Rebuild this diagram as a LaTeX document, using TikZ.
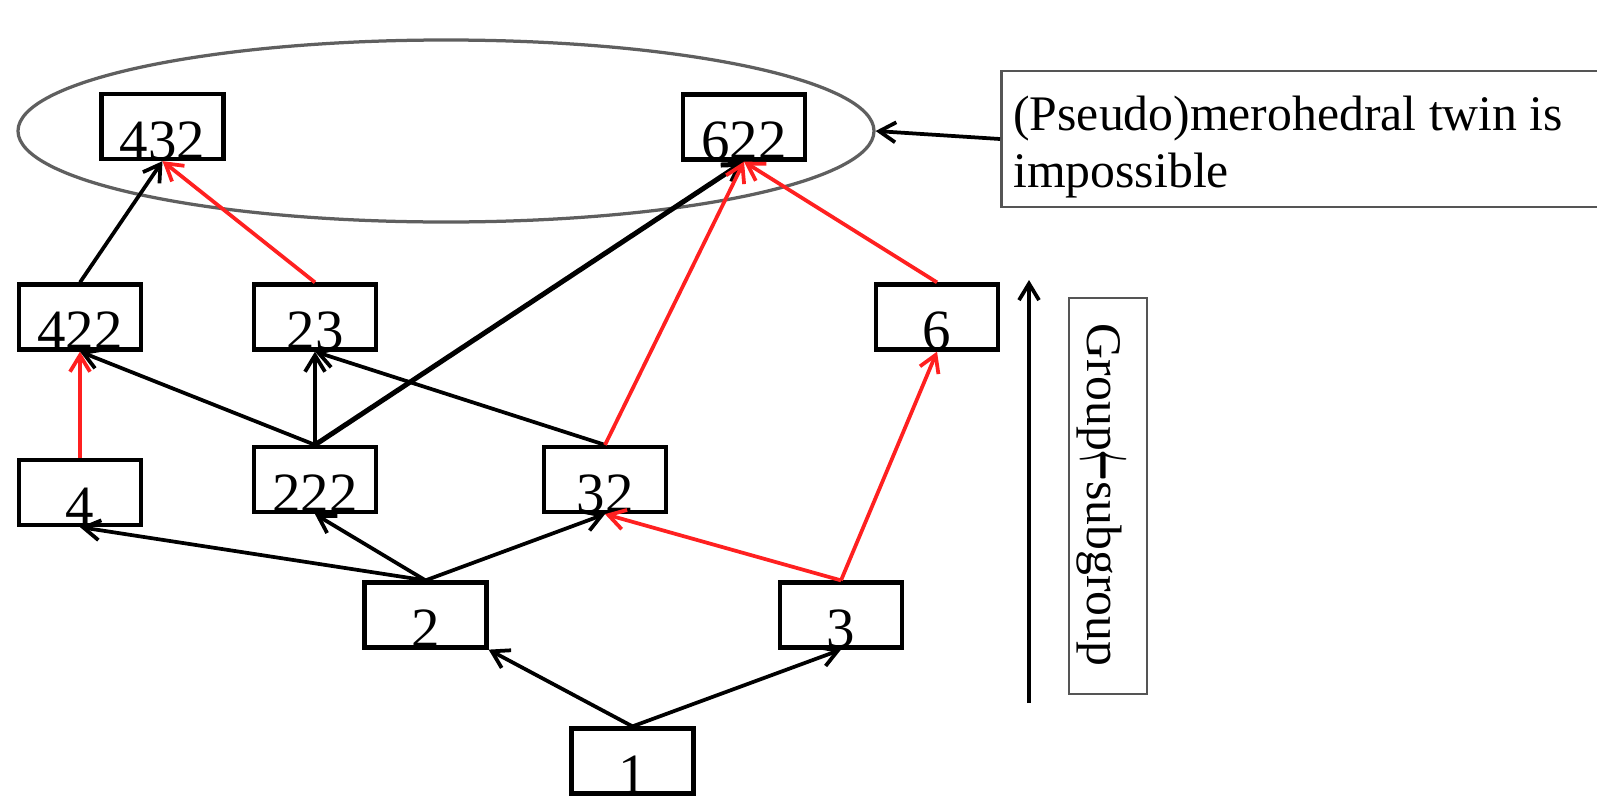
\documentclass[tikz,border=0pt]{standalone}
\usepackage{fontspec}
\usepackage{graphicx}
\setmainfont{Liberation Serif}
\usetikzlibrary{arrows.meta,shapes.geometric}
\definecolor{myred}{RGB}{255,32,32}
\definecolor{ellgray}{RGB}{95,95,95}
\definecolor{lgray}{RGB}{85,85,85}
\begin{document}
\begin{tikzpicture}[x=0.2mm,y=-0.2mm,
  box/.style={draw,line width=0.85mm,rectangle,minimum width=24.4mm,minimum height=13.0mm,
    inner xsep=0pt,inner ysep=0pt,text height=13.0mm,text depth=0pt,
    font=\fontsize{32.4pt}{38pt}\selectfont},
  conn/.style={line width=0.75mm,-{Straight Barb[length=3.3mm,width=4.0mm]}},
  blk/.style={conn,draw=black},
  rd/.style={conn,draw=myred},
  lbl/.style={inner sep=0pt,font=\fontsize{28.3pt}{33pt}\selectfont},
  frame/.style={draw=lgray,line width=0.5mm,inner sep=0pt}
]
\useasboundingbox (0,0) rectangle (1597,799);
% ellipse
\node[draw=ellgray,line width=0.65mm,ellipse,minimum width=171.2mm,minimum height=36.4mm,inner sep=0pt] (ell) at (446,131) {};
% boxes
\node[box] (b432) at (162.5,126.5) {432};
\node[box] (b622) at (744,127) {622};
\node[box] (b422) at (80,317) {422};
\node[box] (b23) at (315,317) {23};
\node[box] (b6) at (937,317) {6};
\node[box] (b4) at (80,492.5) {4};
\node[box] (b222) at (315,479.5) {222};
\node[box] (b32) at (605,479.5) {32};
\node[box] (b2) at (425.5,615) {2};
\node[box] (b3) at (841,615) {3};
\node[box] (b1) at (632.5,761) {1};
% label box
\node[frame,minimum width=130mm,minimum height=27.2mm,anchor=west] (lab) at (1000,139) {};
\node[lbl,anchor=base west] (lab1) at (1013,130) {(Pseudo)merohedral twin is};
\node[lbl,anchor=base west] (lab2) at (1013,187) {impossible};
% group box
\node[frame,minimum width=15.6mm,minimum height=79.2mm] (gbox) at (1108,496) {};
\node[lbl,rotate=-90,anchor=base] (gtext) at (1087,495) {Group\raisebox{-0.12em}{\scalebox{0.6}[2.0]{\boldmath$\leftarrow$}}subgroup};
\coordinate (g0) at (1029,703);
\coordinate (g1) at (1029,280);
\draw[blk] (g0) -- (g1);
% connectors
\draw[blk] (b1.north) -- (b2.south east);
\draw[blk] (b1.north) -- (b3.south);
\draw[blk] (b2.north) -- (b4.south);
\draw[blk] (b2.north) -- (b222.south);
\draw[blk] (b2.north) -- (b32.south);
\draw[rd] (b3.north) -- (b32.south);
\draw[rd] (b3.north) -- (b6.south);
\draw[rd] (b4.north) -- (b422.south);
\draw[blk] (b222.north) -- (b422.south);
\draw[blk] (b222.north) -- (b23.south);
\draw[blk,line width=1.0mm] (b222.north) -- (b622.south);
\draw[blk] (b32.north) -- (b23.south);
\draw[rd] (b32.north) -- (b622.south);
\draw[rd] (b6.north) -- (b622.south);
\draw[blk] (b422.north) -- (b432.south);
\draw[rd] (b23.north) -- (b432.south);
\draw[blk] (lab.west) -- (ell.east);
\end{tikzpicture}
\end{document}
